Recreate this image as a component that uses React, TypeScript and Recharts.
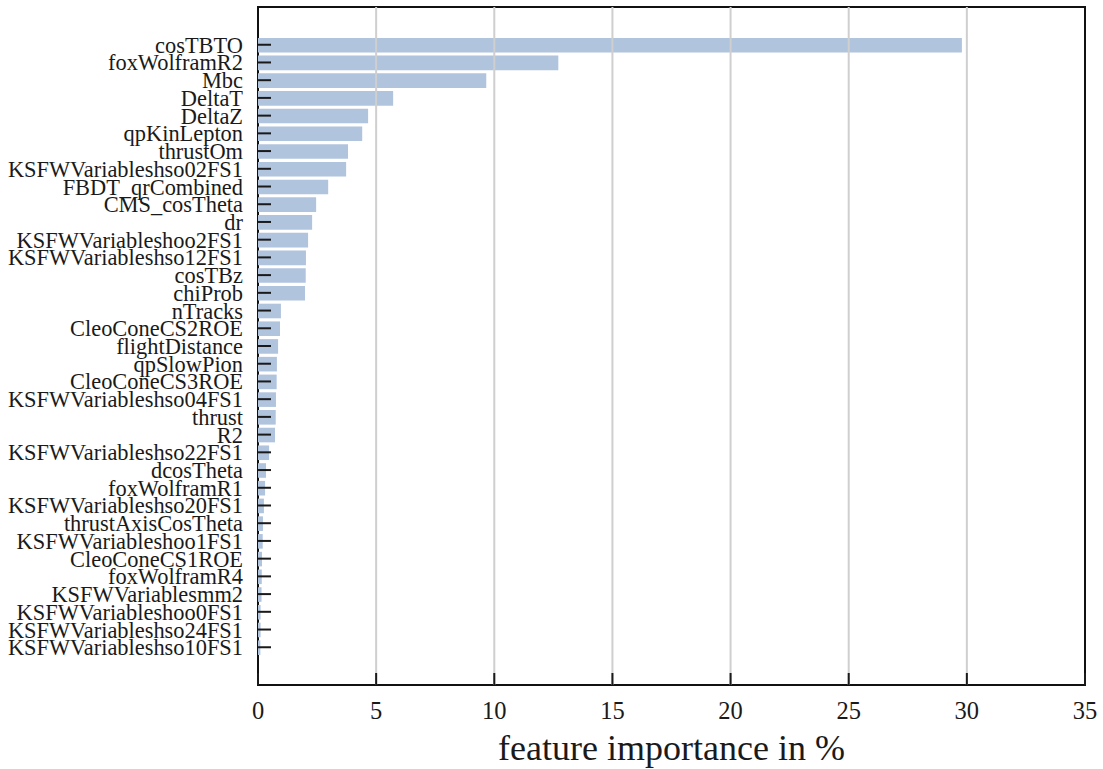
import React from "react";
import { BarChart, Bar, XAxis, YAxis, ReferenceLine, ReferenceArea, Label } from "recharts";

const featureNames = [
  "cosTBTO", "foxWolframR2", "Mbc", "DeltaT", "DeltaZ", "qpKinLepton", "thrustOm",
  "KSFWVariableshso02FS1", "FBDT_qrCombined", "CMS_cosTheta", "dr", "KSFWVariableshoo2FS1",
  "KSFWVariableshso12FS1", "cosTBz", "chiProb", "nTracks", "CleoConeCS2ROE", "flightDistance",
  "qpSlowPion", "CleoConeCS3ROE", "KSFWVariableshso04FS1", "thrust", "R2", "KSFWVariableshso22FS1",
  "dcosTheta", "foxWolframR1", "KSFWVariableshso20FS1", "thrustAxisCosTheta", "KSFWVariableshoo1FS1",
  "CleoConeCS1ROE", "foxWolframR4", "KSFWVariablesmm2", "KSFWVariableshoo0FS1",
  "KSFWVariableshso24FS1", "KSFWVariableshso10FS1",
];

const importanceValues = [
  29.79, 12.71, 9.66, 5.72, 4.66, 4.41, 3.81,
  3.73, 2.97, 2.46, 2.29, 2.12,
  2.03, 2.02, 1.99, 0.97, 0.93, 0.85,
  0.80, 0.79, 0.76, 0.75, 0.72, 0.47,
  0.34, 0.30, 0.25, 0.21, 0.20,
  0.17, 0.16, 0.15, 0.11,
  0.11, 0.10,
];

const xTicks = [0, 5, 10, 15, 20, 25, 30, 35];
const gridTicks = [5, 10, 15, 20, 25, 30];

const rows = featureNames.map((name, i) => ({ name, rank: i, value: importanceValues[i] }));
const rankTicks = featureNames.map((_, i) => i);

const FONT = "'Liberation Serif', 'DejaVu Serif', serif";
const INK = "#1a1a1a";

const YTick = (props: any) => {
  const { x, y, payload } = props;
  const axisX = x + 15;
  return (
    <g>
      <line x1={axisX} x2={axisX + 13} y1={y} y2={y} stroke={INK} strokeWidth={2} />
      <text x={x} y={y} dy={8} textAnchor="end" fontFamily={FONT} fontSize={22.4} fill={INK}>
        {featureNames[payload.value]}
      </text>
    </g>
  );
};

const XTick = (props: any) => {
  const { x, y, payload } = props;
  return (
    <g>
      <line x1={x} x2={x} y1={y - 12} y2={y} stroke={INK} strokeWidth={2} />
      <text x={x} y={y + 33.5} textAnchor="middle" fontFamily={FONT} fontSize={24.5} fill={INK}>
        {payload.value}
      </text>
    </g>
  );
};

export default function App() {
  return (
    <div style={{ position: "absolute", left: 0, top: 0, width: 1103, height: 769, background: "#fff" }}>
      <BarChart
        width={1103}
        height={769}
        data={rows}
        layout="vertical"
        margin={{ top: 7, right: 18, bottom: 0, left: 0 }}
      >
        <XAxis
          type="number"
          domain={[0, 35]}
          ticks={xTicks}
          interval={0}
          height={84}
          axisLine={false}
          tickLine={false}
          tickSize={0}
          tickMargin={0}
          tick={<XTick />}
        >
          <Label
            value="feature importance in %"
            position="insideBottom"
            offset={9}
            fontFamily={FONT}
            fontSize={36}
            fill={INK}
          />
        </XAxis>
        <YAxis
          type="number"
          dataKey="rank"
          domain={[-2.13, 36.13]}
          ticks={rankTicks}
          interval={0}
          width={258}
          axisLine={false}
          tickLine={false}
          tickSize={0}
          tickMargin={15}
          tick={<YTick />}
          allowDataOverflow
        />
        <Bar dataKey="value" fill="#b0c4de" barSize={14.6} isAnimationActive={false} />
        {gridTicks.map((t) => (
          <ReferenceLine key={t} x={t} stroke="#cfcfcf" strokeWidth={2} />
        ))}
        <ReferenceArea x1={0} x2={35} fill="none" fillOpacity={0} stroke="#111" strokeWidth={2} ifOverflow="visible" />
      </BarChart>
    </div>
  );
}
